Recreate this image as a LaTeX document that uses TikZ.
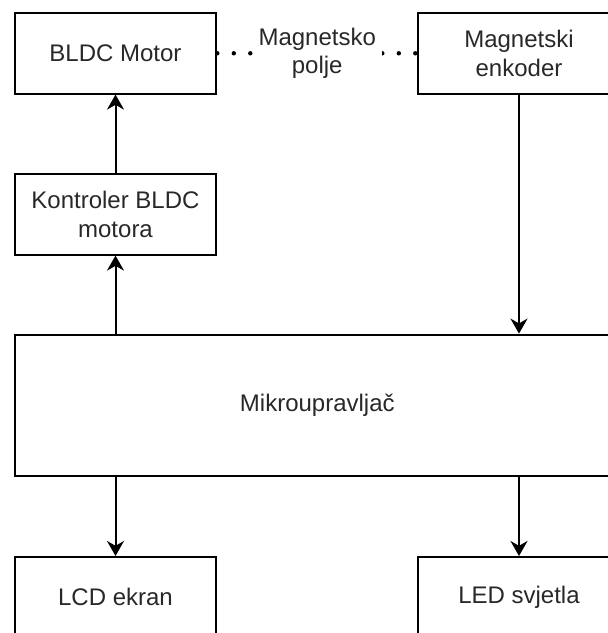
\documentclass[tikz,border=0pt]{standalone}
\usepackage{fontspec}
\setmainfont{Liberation Sans}
\usetikzlibrary{arrows.meta,positioning,calc}
\definecolor{blk}{RGB}{0,0,0}
\definecolor{txt}{RGB}{40,40,40}
\tikzset{box/.style={draw=blk,line width=1pt,minimum width=100.8pt,minimum height=40.3pt,inner sep=2pt,align=center,text=txt,font=\fontsize{12}{14.4}\selectfont},
  flow/.style={-{Stealth[length=7.5pt,width=8.5pt,inset=2.4pt]},line width=1pt,blk},
  field/.style={line width=2.2pt,line cap=round,dash pattern=on 0pt off 8.25pt,blk},
  fieldtext/.style={fill=white,inner sep=3pt,align=center,text=txt,font=\fontsize{12}{14.4}\selectfont}}

\begin{document}
\begin{tikzpicture}[x=0.5pt,y=-0.5pt]
\useasboundingbox (0,0) rectangle (608,633);
\clip (0,0) rectangle (608,633);
\node[box] (motor) at (115.5,53.3) {BLDC Motor};
\node[box] (enc) at (519,53.3) {Magnetski\\enkoder};
\node[box] (ctrl) at (115.5,214.3) {Kontroler BLDC\\motora};
\node[box,minimum width=302.6pt,minimum height=70.7pt] (mcu) at (317.3,405.3) {Mikroupravljač};
\node[box] (lcd) at (115.5,597.3) {LCD ekran};
\node[box] (led) at (519,597.3) {LED svjetla};
\draw[field] (motor) -- node[fieldtext] {Magnetsko\\polje} (enc);
\draw[flow] (ctrl) -- (motor); \draw[flow] (mcu.north -| ctrl) -- (ctrl);
\draw[flow] (enc) -- (mcu.north -| enc);
\draw[flow] (mcu.south -| lcd) -- (lcd); \draw[flow] (mcu.south -| led) -- (led);
\end{tikzpicture}
\end{document}
